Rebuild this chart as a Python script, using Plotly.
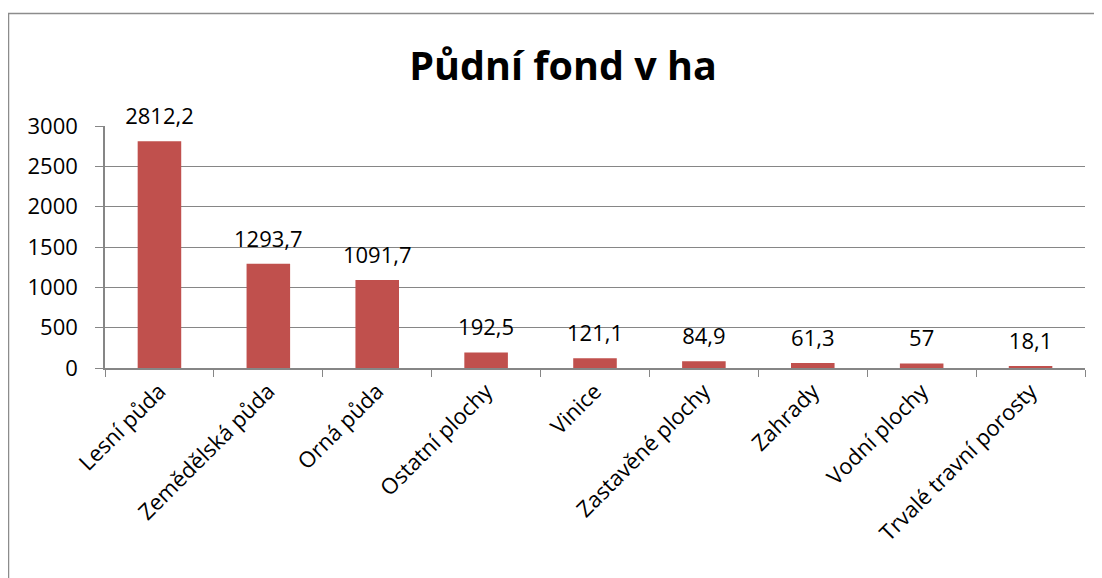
import plotly.graph_objects as go

categories = ["Lesní půda", "Zemědělská půda", "Orná půda", "Ostatní plochy", "Vinice",
              "Zastavěné plochy", "Zahrady", "Vodní plochy", "Trvalé travní porosty"]
values = [2812.2, 1293.7, 1091.7, 192.5, 121.1, 84.9, 61.3, 57, 18.1]
labels = [f"{v:g}".replace(".", ",") for v in values]
title_text = "Půdní fond v ha"
y_ticks = [0, 500, 1000, 1500, 2000, 2500, 3000]

FONT = "Open Sans"
GRID = "#868686"
FS = 22

fig = go.Figure()
fig.add_trace(go.Bar(
    x=categories, y=values,
    marker=dict(color="#C0504D", line=dict(width=0)),
))
fig.add_trace(go.Scatter(
    x=categories, y=values, text=labels, mode="markers+text", textposition="top center",
    marker=dict(size=17, opacity=0),
    textfont=dict(family=FONT, size=FS, color="black"), cliponaxis=False, hoverinfo="skip",
))

# page has an 8px body offset
W, H = 1094, 570
L, R, T, B = 97, 17, 118, 210
pw, ph = W - L - R, H - T - B

fig.update_layout(
    width=W, height=H,
    margin=dict(l=L, r=R, t=T, b=B, autoexpand=False),
    plot_bgcolor="white", paper_bgcolor="white",
    bargap=0.6,
    showlegend=False,
    title=dict(text="<b>" + title_text + "</b>", x=(555 - L) / pw, xref="paper", xanchor="center",
               y=(H - 58) / H, yanchor="middle", yref="container",
               font=dict(family=FONT, size=39.5, color="black")),
    xaxis=dict(type="category", range=[-0.5, len(categories) - 0.5], tickangle=-45,
               tickfont=dict(family=FONT, size=FS, color="black"),
               showline=True, linecolor=GRID, linewidth=1.5, ticks="outside", tickson="boundaries",
               ticklen=7, tickcolor=GRID, showgrid=False),
    yaxis=dict(range=[0, 3000], tickvals=y_ticks, tickfont=dict(family=FONT, size=FS, color="black"),
               showgrid=True, gridcolor=GRID, gridwidth=1.2, showline=True, linecolor=GRID, linewidth=1.5,
               ticks="outside", ticklen=8, tickcolor=GRID, zeroline=False, ticklabelstandoff=13),
    shapes=[dict(type="rect", xref="paper", yref="paper",
                 x0=(0.5 - L) / pw, x1=(W + 20 - L) / pw,
                 y0=(H - B - (H + 20)) / ph, y1=(H - B - 5.5) / ph,
                 line=dict(color="#8c8c8c", width=1.5), layer="below")],
)
fig.write_html("out.html")
